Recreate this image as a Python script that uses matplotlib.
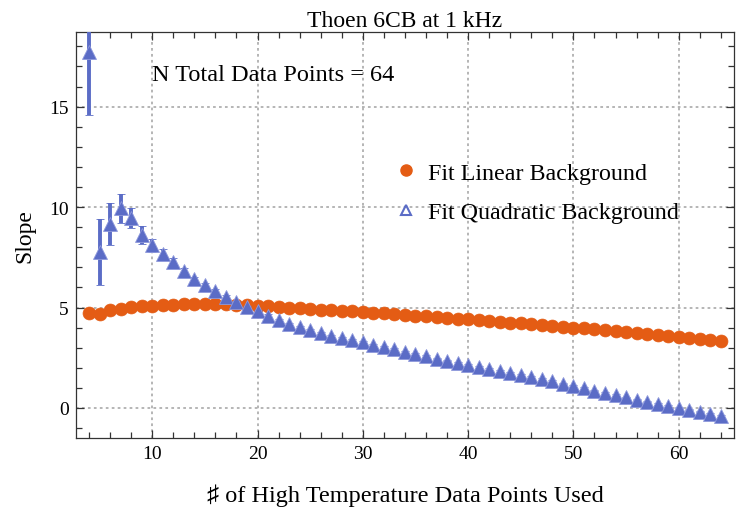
import numpy as np
import matplotlib
matplotlib.use('Agg')
import matplotlib.pyplot as plt
from matplotlib.lines import Line2D
from matplotlib.ticker import MultipleLocator

plt.rcParams['font.family'] = ['Liberation Serif', 'DejaVu Sans']
plt.rcParams['mathtext.fontset'] = 'stix'

# number of high-temperature points used in the fit
n_used = np.arange(4, 65)

slope_linear = [4.72, 4.70, 4.86, 4.95, 5.02, 5.07, 5.10,
                5.13, 5.15, 5.16, 5.17, 5.17, 5.17, 5.16, 5.14, 5.12, 5.09,
                5.06, 5.03, 5.00, 4.97, 4.93, 4.90, 4.87, 4.84, 4.81, 4.77,
                4.74, 4.71, 4.67, 4.64, 4.60, 4.57, 4.53, 4.49, 4.45, 4.41,
                4.37, 4.33, 4.29, 4.25, 4.21, 4.17, 4.13, 4.09, 4.05, 4.00,
                3.96, 3.91, 3.87, 3.82, 3.78, 3.73, 3.68, 3.64, 3.59, 3.54,
                3.49, 3.44, 3.39, 3.34]

slope_quad = [17.7, 7.75, 9.15, 9.95, 9.45, 8.60, 8.10,
              7.67, 7.28, 6.82, 6.40, 6.10, 5.82, 5.52, 5.26, 5.04, 4.83,
              4.60, 4.39, 4.18, 4.02, 3.86, 3.73, 3.60, 3.48, 3.38, 3.27,
              3.15, 3.03, 2.92, 2.80, 2.68, 2.58, 2.46, 2.36, 2.25, 2.14,
              2.05, 1.95, 1.85, 1.75, 1.65, 1.55, 1.45, 1.33, 1.21, 1.09,
              0.98, 0.87, 0.76, 0.64, 0.53, 0.42, 0.32, 0.21, 0.11, 0.02,
              -0.08, -0.18, -0.29, -0.41]

err_quad = [3.1, 1.65, 1.05, 0.72, 0.50, 0.45, 0.33,
            0.25, 0.20, 0.15, 0.12, 0.10, 0.09, 0.08, 0.07, 0.06, 0.06,
            0.06, 0.05, 0.05, 0.05, 0.05, 0.05, 0.05, 0.05, 0.05, 0.05,
            0.05, 0.05, 0.05, 0.05, 0.05, 0.04, 0.04, 0.04, 0.04, 0.04,
            0.04, 0.04, 0.04, 0.04, 0.04, 0.04, 0.04, 0.04, 0.04, 0.04,
            0.04, 0.04, 0.04, 0.04, 0.04, 0.04, 0.04, 0.04, 0.04, 0.04,
            0.04, 0.04, 0.04, 0.04]

n_total = 64

orange = '#e45c14'
blue = '#5b6cc6'

fig = plt.figure(figsize=(7.38, 5.10), dpi=100)
ax = fig.add_axes([0.1026, 0.1386, 0.8924, 0.7961])

ax.plot(n_used, slope_linear, 'o', ms=9.3, color=orange, mec=orange, mew=0.5, zorder=3)
ax.errorbar(n_used, slope_quad, yerr=err_quad, fmt='^', ms=9.5, color=blue,
            mec='#8f99dc', mew=0.6, ecolor=blue, elinewidth=2.8,
            capsize=2.6, capthick=2.4, zorder=4)

ax.set_xlim(2.73, 65.28)
ax.set_ylim(-1.51, 18.70)
ax.xaxis.set_major_locator(MultipleLocator(10))
ax.xaxis.set_minor_locator(MultipleLocator(2))
ax.yaxis.set_major_locator(MultipleLocator(5))
ax.yaxis.set_minor_locator(MultipleLocator(1))
ax.tick_params(which='both', direction='in', top=True, right=True,
               labelsize=14, color='#333333', width=0.9)
ax.tick_params(which='major', length=6, pad=5)
ax.tick_params(which='minor', length=4)
for s in ax.spines.values():
    s.set_color('#333333')
    s.set_linewidth(0.9)

ax.grid(True, which='major', color='#b0b0b0', lw=1.3, ls=(0, (1.5, 1.8)), zorder=0)

ax.set_title('Thoen 6CB at 1 kHz', fontsize=17, pad=4.8)
ax.set_xlabel('\u266f of High Temperature Data Points Used', fontsize=17.5, labelpad=15)
ax.set_ylabel('Slope', fontsize=17, labelpad=10)

ax.text(9.95, 16.33, 'N Total Data Points = %d' % n_total, fontsize=17.5, va='baseline')

handles = [Line2D([], [], ls='none', marker='o', ms=8, color=orange),
           Line2D([], [], ls='none', marker='^', ms=7.5, mfc='none', mec=blue, mew=1.5)]
ax.legend(handles, ['Fit Linear Background', 'Fit Quadratic Background'],
          frameon=False, fontsize=17.3, loc='upper left',
          bbox_to_anchor=(394 / 738, 1 - 163 / 510), bbox_transform=fig.transFigure,
          borderpad=0, borderaxespad=0, handlelength=1.0, handletextpad=0.4,
          labelspacing=0.72)

fig.savefig('out.png', dpi=100)
